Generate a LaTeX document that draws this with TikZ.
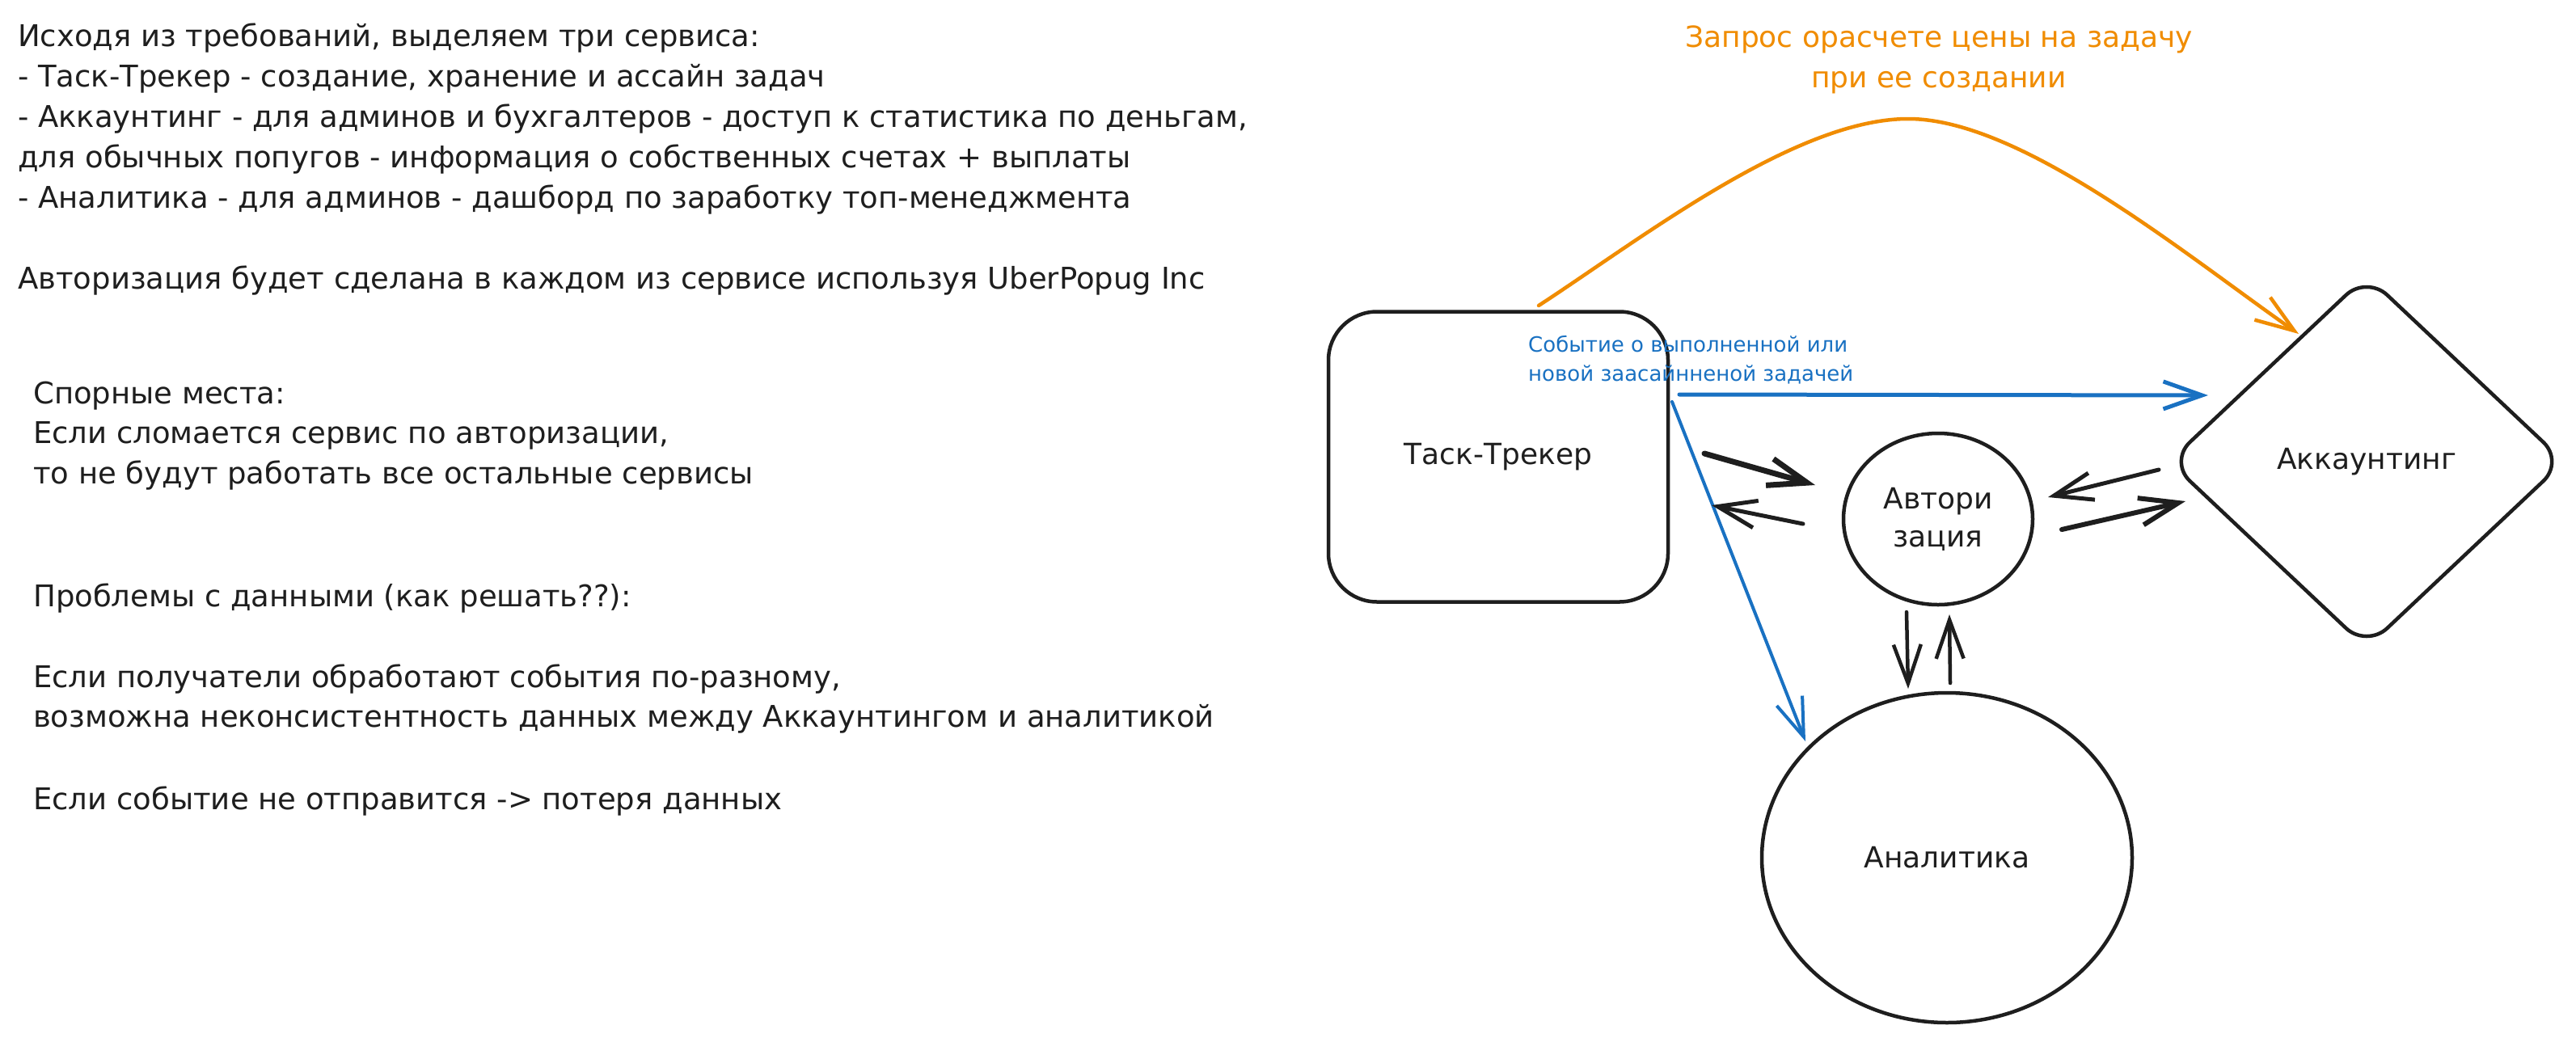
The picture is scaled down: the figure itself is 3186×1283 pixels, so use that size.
\documentclass[tikz,border=0pt]{standalone}
\usepackage{fontspec}
\setmainfont{DejaVu Sans}
\usetikzlibrary{arrows.meta,shapes.geometric,calc}
\definecolor{ink}{HTML}{1E1E1E}
\definecolor{org}{HTML}{F08C00}
\definecolor{blu}{HTML}{1971C2}
\begin{document}
\begin{tikzpicture}[x=1pt,y=-1pt,
  note/.style={anchor=base west, inner sep=0pt, text=ink, font=\fontsize{37}{50}\selectfont},
  shapebox/.style={draw=ink, line width=4.5pt, text=ink, inner sep=0pt, font=\fontsize{36}{47}\selectfont, align=center},
  barb/.style={-{Straight Barb[length=48pt,width=34pt]}, line cap=round, line join=round},
  blk/.style={barb, draw=ink, line width=5pt},
  bluearrow/.style={barb, draw=blu, line width=5pt},
  orgarrow/.style={barb, draw=org, line width=4.5pt}]
\useasboundingbox[fill=white] (0,0) rectangle (3186,1283);

% left notes
\node[note] (n1) at (22,57) {Исходя из требований, выделяем три сервиса:};
\node[note] (n2) at (22,107) {- Таск-Трекер - создание, хранение и ассайн задач};
\node[note] (n3) at (22,157) {- Аккаунтинг - для админов и бухгалтеров - доступ к статистика по деньгам,};
\node[note] (n4) at (22,207) {для обычных попугов - информация о собственных счетах + выплаты};
\node[note] (n5) at (22,257) {- Аналитика - для админов - дашборд по заработку топ-менеджмента};
\node[note] (n6) at (22,357) {Авторизация будет сделана в каждом из сервисе используя UberPopug Inc};
\node[note] (n7) at (41,499) {Спорные места:};
\node[note] (n8) at (41,548) {Если сломается сервис по авторизации,};
\node[note] (n9) at (41,598) {то не будут работать все остальные сервисы};
\node[note] (n10) at (41,750) {Проблемы с данными (как решать??):};
\node[note] (n11) at (41,850) {Если получатели обработают события по-разному,};
\node[note] (n12) at (41,899) {возможна неконсистентность данных между Аккаунтингом и аналитикой};
\node[note] (n13) at (41,1001) {Если событие не отправится -> потеря данных};

% shapes
\node[shapebox, rectangle, rounded corners=60pt, minimum width=420pt, minimum height=359pt] (trk) at (1853,565) {Таск-Трекер};
\node[shapebox, ellipse, minimum width=234pt, minimum height=212pt] (auth) at (2397,642) {Автори\\зация};
\node[shapebox, diamond, rounded corners=35pt, minimum width=490pt, minimum height=462pt] (acc) at (2927,571) {Аккаунтинг};
\node[shapebox, ellipse, minimum width=458pt, minimum height=408pt] (ana) at (2408,1061) {Аналитика};

% labels
\node[text=org, font=\fontsize{36}{50}\selectfont, align=center, inner sep=0pt, anchor=base] (olab) at (2398,108) {Запрос орасчете цены на задачу\\при ее создании};
\node[text=blu, font=\fontsize{26}{36}\selectfont, align=left, inner sep=0pt, anchor=base west] (blab) at (1890,471) {Событие о выполненной или\\новой заасайнненой задачей};

% connector end points
\coordinate (oS) at (1903,378);
\coordinate (oP) at (2360,147);
\coordinate (oE) at (2843,413);
\coordinate (bS) at (2077,488);
\coordinate (bE) at (2731,489);
\coordinate (dS) at (2068,497);
\coordinate (dE) at (2233,917);
\coordinate (ta1) at (2108,561);
\coordinate (ta2) at (2245,600);
\coordinate (at1) at (2230,648);
\coordinate (at2) at (2117,625);
\coordinate (ca1) at (2670,581);
\coordinate (ca2) at (2533,615);
\coordinate (ac1) at (2550,655);
\coordinate (ac2) at (2703,620);
\coordinate (an1) at (2358,757);
\coordinate (an2) at (2360,852);
\coordinate (na1) at (2412,845);
\coordinate (na2) at (2411,760);

% connectors
\draw[orgarrow] (oS) .. controls (2029,296) and (2220,147) .. (oP) .. controls (2500,147) and (2704,316) .. (oE);
\draw[bluearrow] (bS) -- (bE);
\draw[bluearrow, line width=4pt] (dS) -- (dE);
\draw[blk, line width=7pt] (ta1) -- (ta2);
\draw[blk] (at1) -- (at2);
\draw[blk] (ca1) -- (ca2);
\draw[blk, line width=6pt] (ac1) -- (ac2);
\draw[blk, line width=4.5pt] (an1) -- (an2);
\draw[blk, line width=4.5pt] (na1) -- (na2);
\end{tikzpicture}
\end{document}
